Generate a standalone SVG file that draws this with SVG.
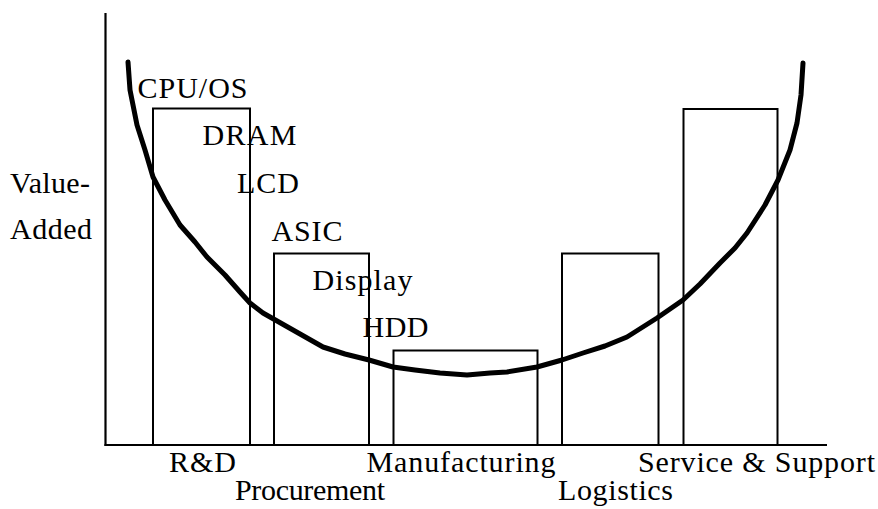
<svg xmlns="http://www.w3.org/2000/svg" width="878" height="509" viewBox="0 0 878 509">
<style>
.t { font-family: "Liberation Serif", "DejaVu Serif", serif; font-size: 30px; fill: #000; }
.d { font-family: "DejaVu Serif", serif; }
.bar { fill: none; stroke: #000; stroke-width: 2; }
.axis { fill: none; stroke: #000; stroke-width: 2.2; }
.curve { fill: none; stroke: #000; stroke-width: 5; stroke-linecap: round; stroke-linejoin: round; }
</style>
<rect width="878" height="509" fill="#fff"/>
<g id="axes">
<line class="axis" x1="105.5" y1="13" x2="105.5" y2="446"/>
<line class="axis" x1="104.5" y1="445" x2="827" y2="445"/>
</g>
<g id="bar-rd"><rect class="bar" x="153" y="108.5" width="97" height="336.5"/></g>
<g id="bar-procurement"><rect class="bar" x="274" y="253.5" width="95" height="191.5"/></g>
<g id="bar-manufacturing"><rect class="bar" x="393.5" y="350.5" width="144" height="94.5"/></g>
<g id="bar-logistics"><rect class="bar" x="562" y="253.5" width="96.5" height="191.5"/></g>
<g id="bar-service"><rect class="bar" x="683.5" y="109" width="94" height="336"/></g>
<g id="curve">
<path class="curve" d="M128,62 L130,90 L133,105 L137,125 L145,150 L153,177 L165,200 L180,225 L195,242 L207,257 L225,275 L240,292 L250,303 L263,313 L293,330 L323,347 L345,354 L369,360 L393,367 L415,370 L440,373 L467,375 L490,373 L507,372 L537,367 L562,360 L583,353 L605,346 L627,337 L657,318 L683,300 L700,284 L720,263 L735,248 L747,233 L765,205 L778,180 L790,150 L797,123 L801,95 L803,63"/>
</g>
<g id="labels">
<text class="t" x="10" y="193" textLength="80">Value-</text>
<text class="t" x="10" y="239" textLength="82">Added</text>
<text class="t" x="137.5" y="97.5" textLength="110">CPU/OS</text>
<text class="t" x="202.5" y="145" textLength="94">DRAM</text>
<text class="t" x="237" y="192.5" textLength="62">LCD</text>
<text class="t" x="271.5" y="241" textLength="71">ASIC</text>
<text class="t" x="312.5" y="289.5" textLength="100">Display</text>
<text class="t" x="362.5" y="337" textLength="66">HDD</text>
<text class="t" x="169" y="472" textLength="67">R&amp;D</text>
<text class="t" x="366.5" y="472" textLength="189">Manufacturing</text>
<text class="t" x="638" y="472" textLength="237">Service &amp; Support</text>
<text class="t" x="235" y="500" textLength="150">Procurement</text>
<text class="t" x="558" y="500" textLength="115">Logistics</text>
</g>
</svg>
